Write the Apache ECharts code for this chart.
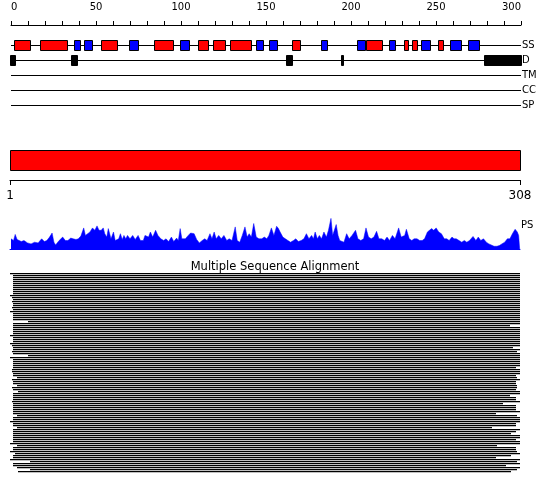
<!DOCTYPE html>
<html>
<head>
<meta charset="utf-8">
<script src="https://cdn.jsdelivr.net/npm/echarts@6/dist/echarts.min.js"></script>
<style>
  html, body { margin: 0; padding: 0; background: #fff; }
  #chart { width: 550px; height: 495px; }
</style>
</head>
<body>
<div id="chart"></div>
<script>
// annotation tracks, positions on the 0..300 ruler
var trackNames = ["SS", "D", "TM", "CC", "SP"];
var ssHelix = [[2, 11], [17, 33], [53, 62.5], [84, 95.5], [110, 116], [119, 126], [129, 141],
  [165, 170], [209, 218], [231, 233.5], [236, 239], [251, 254]];
var ssStrand = [[37, 40.5], [43, 47.5], [69.5, 74.5], [99.5, 104.5], [144, 148.5], [151.5, 156.5],
  [182.5, 186], [203.5, 208], [222.5, 226], [241, 246.5], [258, 264.5], [269, 275]];
var disorder = [[-0.5, 2.5], [35.5, 39], [162, 165], [194.2, 195], [278, 300]];

// sequence length and domain bar
var seqLen = 308;
var domains = [[1, 308]];

// PS profile [position, value]
var psProfile = [[1.6,30],[3.1,25],[4.1,43],[5.2,28],[6.2,30],[7.7,22],[9.3,25],[11.4,18],[13.5,15],[15.6,20],[17.7,18],[19.8,30],[21.4,22],[22.9,25],[24.5,35],[26.0,47],[27.1,20],[28.1,12],[30.2,25],[32.3,35],[33.9,25],[35.4,25],[37.1,32],[38.5,30],[40.2,28],[41.6,30],[43.1,38],[44.8,62],[45.8,40],[46.8,40],[48.5,50],[50.0,62],[51.4,55],[52.7,68],[53.9,55],[55.2,55],[56.4,62],[57.3,45],[58.5,35],[59.4,60],[61.0,30],[62.5,50],[63.5,25],[64.6,25],[65.6,30],[66.6,45],[67.7,28],[68.7,40],[69.8,30],[70.8,40],[72.3,30],[73.9,40],[75.4,28],[77.1,40],[78.5,25],[80.2,25],[81.2,40],[82.3,45],[83.3,35],[84.4,50],[85.8,35],[87.5,55],[88.9,40],[90.6,30],[92.3,25],[93.7,30],[95.2,22],[96.9,35],[98.3,22],[100.0,32],[101.0,25],[102.1,60],[103.1,30],[105.2,30],[106.9,40],[108.3,47],[109.4,45],[110.4,45],[111.9,28],[113.5,18],[115.2,25],[116.7,30],[118.1,25],[119.8,45],[121.0,30],[122.3,50],[123.5,30],[125.0,40],[126.5,30],[128.1,40],[129.8,25],[131.2,30],[132.9,25],[134.8,65],[136.0,25],[137.5,20],[139.0,40],[140.6,65],[141.9,35],[143.1,45],[144.4,35],[145.8,75],[147.3,35],[148.9,30],[150.6,30],[152.1,35],[153.6,30],[154.8,40],[156.3,62],[157.8,40],[159.4,67],[160.5,60],[161.5,50],[163.1,35],[164.6,30],[166.1,25],[167.7,20],[169.4,25],[170.8,30],[172.3,22],[174.0,25],[175.6,30],[177.1,45],[178.6,30],[180.2,40],[181.3,30],[182.3,50],[183.6,30],[184.8,40],[186.1,30],[187.5,50],[189.0,35],[190.2,55],[191.7,90],[192.7,40],[193.8,45],[194.8,72],[195.9,40],[196.9,25],[197.9,30],[199.4,20],[201.0,45],[202.5,30],[204.2,40],[205.2,35],[206.3,55],[207.7,30],[209.4,25],[211.1,30],[212.5,62],[214.0,35],[215.6,30],[217.2,35],[218.8,52],[220.2,30],[221.9,30],[223.5,25],[225.0,35],[226.5,25],[228.2,40],[229.8,30],[231.9,62],[233.4,35],[234.4,35],[235.5,40],[236.5,58],[238.2,30],[239.7,25],[241.1,30],[242.8,30],[244.4,25],[245.9,25],[247.3,30],[249.0,50],[250.2,55],[251.5,60],[252.7,55],[254.2,62],[255.7,50],[257.3,45],[259.0,30],[260.5,30],[261.9,25],[263.6,35],[264.8,30],[266.1,30],[267.8,25],[269.4,20],[270.9,25],[272.4,20],[274.0,25],[276.1,37],[277.8,25],[279.2,35],[280.7,25],[282.3,30],[284.0,20],[285.5,15],[286.9,12],[288.6,8],[290.3,8],[291.7,10],[293.2,15],[294.9,20],[296.5,30],[298.0,30],[299.5,45],[301.1,58],[302.4,50],[303.2,40],[303.8,0]];

// alignment rows: first and last aligned residue
var alnStart = [1,3,3,3,3,3,3,3,3,3, 3,1,2,3,2,3,3,2,3,1, 3,3,3,3,12,3,3,3,3,3,
  3,1,3,3,3,1,2,3,3,2, 3,12,1,3,3,3,3,3,2,2, 3,3,5,2,3,3,5,2,3,6,
  3,3,3,3,2,3,3,3,3,3, 3,5,3,3,1,3,3,5,3,3, 3,3,3,3,3,1,5,3,3,1,
  4,3,3,1,13,3,3,5,13,6];
var alnEnd = [308,308,308,308,308,308,308,308,308,308, 308,308,308,308,308,308,308,308,308,308,
  308,308,308,308,308,308,302,308,308,308, 308,308,308,308,308,308,308,304,308,306,
  308,308,308,308,308,308,308,306,308,308, 308,306,306,308,306,306,306,306,306,308,
  308,302,306,306,308,298,306,306,306,308, 294,306,308,308,308,306,306,291,308,306,
  303,308,308,306,308,308,294,306,306,306, 308,303,294,308,306,308,300,308,306,303];

var font = "DejaVu Sans";
var chart = echarts.init(document.getElementById("chart"));

function boxRender(fill, stroke, h) {
  return function (params, api) {
    var a = api.coord([api.value(0), api.value(2)]);
    var b = api.coord([api.value(1), api.value(2)]);
    var x0 = Math.round(a[0]), x1 = Math.round(b[0]);
    var y0 = Math.round(a[1] - h / 2);
    return {
      type: "rect",
      shape: { x: x0 + 0.5, y: y0 + 0.5, width: Math.max(x1 - x0, 1), height: h - 1 },
      style: { fill: fill, stroke: stroke, lineWidth: 1 }
    };
  };
}

function lineRender(color) {
  return function (params, api) {
    var a = api.coord([api.value(0), api.value(2)]);
    var b = api.coord([api.value(1), api.value(2)]);
    var y = Math.round(a[1]) + 0.5;
    return {
      type: "line",
      shape: { x1: a[0], y1: y, x2: b[0], y2: y },
      style: { stroke: color, lineWidth: 1 }
    };
  };
}

function rows(list, row) {
  return list.map(function (d) { return [d[0], d[1], row]; });
}

var option = {
  animation: false,
  title: {
    text: "Multiple Sequence Alignment",
    left: "center",
    top: 256,
    textStyle: { fontFamily: font, fontSize: 11.5, fontWeight: "normal", color: "#000" }
  },
  graphic: [{
    type: "text", left: 521, top: 220,
    style: { text: "PS", fontFamily: font, fontSize: 10, fill: "#000" }
  }],
  grid: [
    { left: 11, width: 510, top: 15, height: 10 },
    { left: 11, width: 510, top: 37.5, height: 75 },
    { left: 10, width: 510, top: 150, height: 30 },
    { left: 10, width: 510, top: 215, height: 34 },
    { left: 10, width: 510, top: 273, height: 200 }
  ],
  xAxis: [
    {
      gridIndex: 0, type: "value", position: "top", min: 0, max: 300, interval: 10,
      splitLine: { show: false },
      axisLine: { lineStyle: { color: "#000", width: 1 } },
      axisTick: { length: 4, lineStyle: { color: "#000" } },
      axisLabel: {
        margin: 3, fontFamily: font, fontSize: 10, color: "#000",
        alignMinLabel: "left", alignMaxLabel: "right",
        formatter: function (v) { return v % 50 === 0 ? String(v) : ""; }
      }
    },
    { gridIndex: 1, type: "value", min: 0, max: 300, show: false },
    {
      gridIndex: 2, type: "value", position: "bottom", min: 1, max: seqLen,
      splitLine: { show: false },
      axisLine: { lineStyle: { color: "#000", width: 1 } },
      axisTick: { length: 5, customValues: [1, seqLen], lineStyle: { color: "#000" } },
      axisLabel: { margin: 10, customValues: [1, seqLen], fontFamily: font, fontSize: 12, color: "#000" }
    },
    {
      gridIndex: 3, type: "value", min: 1, max: 304,
      splitLine: { show: false },
      axisLine: { lineStyle: { color: "#0000ff", width: 1 } },
      axisTick: { show: false }, axisLabel: { show: false }
    },
    { gridIndex: 4, type: "value", min: 1, max: seqLen, show: false }
  ],
  yAxis: [
    { gridIndex: 0, type: "value", show: false },
    {
      gridIndex: 1, type: "category", data: trackNames, inverse: true, position: "right",
      axisLine: { show: false }, axisTick: { show: false }, splitLine: { show: false },
      axisLabel: { margin: 1, fontFamily: font, fontSize: 10, color: "#000" }
    },
    { gridIndex: 2, type: "value", min: 0, max: 30, show: false },
    { gridIndex: 3, type: "value", min: 0, max: 100, show: false },
    { gridIndex: 4, type: "value", min: -0.5, max: alnStart.length - 0.5, inverse: true, show: false }
  ],
  series: [
    {
      type: "custom", xAxisIndex: 1, yAxisIndex: 1, clip: false,
      renderItem: lineRender("#000"),
      data: trackNames.map(function (n, i) { return [0, 300, i]; })
    },
    {
      type: "custom", xAxisIndex: 1, yAxisIndex: 1, clip: false,
      renderItem: boxRender("#ff0000", "#000", 11),
      data: rows(ssHelix, 0)
    },
    {
      type: "custom", xAxisIndex: 1, yAxisIndex: 1, clip: false,
      renderItem: boxRender("#0000ff", "#000", 11),
      data: rows(ssStrand, 0)
    },
    {
      type: "custom", xAxisIndex: 1, yAxisIndex: 1, clip: false,
      renderItem: boxRender("#000", "#000", 11),
      data: rows(disorder, 1)
    },
    {
      type: "custom", xAxisIndex: 2, yAxisIndex: 2,
      renderItem: function (params, api) {
        var a = api.coord([api.value(0), 30]);
        var b = api.coord([api.value(1), 10]);
        return {
          type: "rect",
          shape: { x: Math.round(a[0]) + 0.5, y: Math.round(a[1]) + 0.5, width: Math.round(b[0] - a[0]), height: Math.round(b[1] - a[1]) },
          style: { fill: "#ff0000", stroke: "#000", lineWidth: 1 }
        };
      },
      data: domains
    },
    {
      type: "line", xAxisIndex: 3, yAxisIndex: 3, data: psProfile,
      showSymbol: false, symbol: "none",
      lineStyle: { color: "#0000ff", width: 0.5 },
      areaStyle: { color: "#0000ff", opacity: 1 }
    },
    {
      type: "custom", xAxisIndex: 4, yAxisIndex: 4,
      renderItem: function (params, api) {
        var a = api.coord([api.value(0), api.value(2)]);
        var b = api.coord([api.value(1), api.value(2)]);
        // one crisp pixel row per sequence, with a faint second row
        return {
          type: "rect",
          shape: { x: Math.round(a[0]), y: Math.round(a[1]) - 1, width: Math.round(b[0] - a[0]), height: 1.3 },
          style: { fill: "#000" }
        };
      },
      data: alnStart.map(function (s, i) { return [s, alnEnd[i], i]; })
    }
  ]
};

chart.setOption(option);
</script>
</body>
</html>
